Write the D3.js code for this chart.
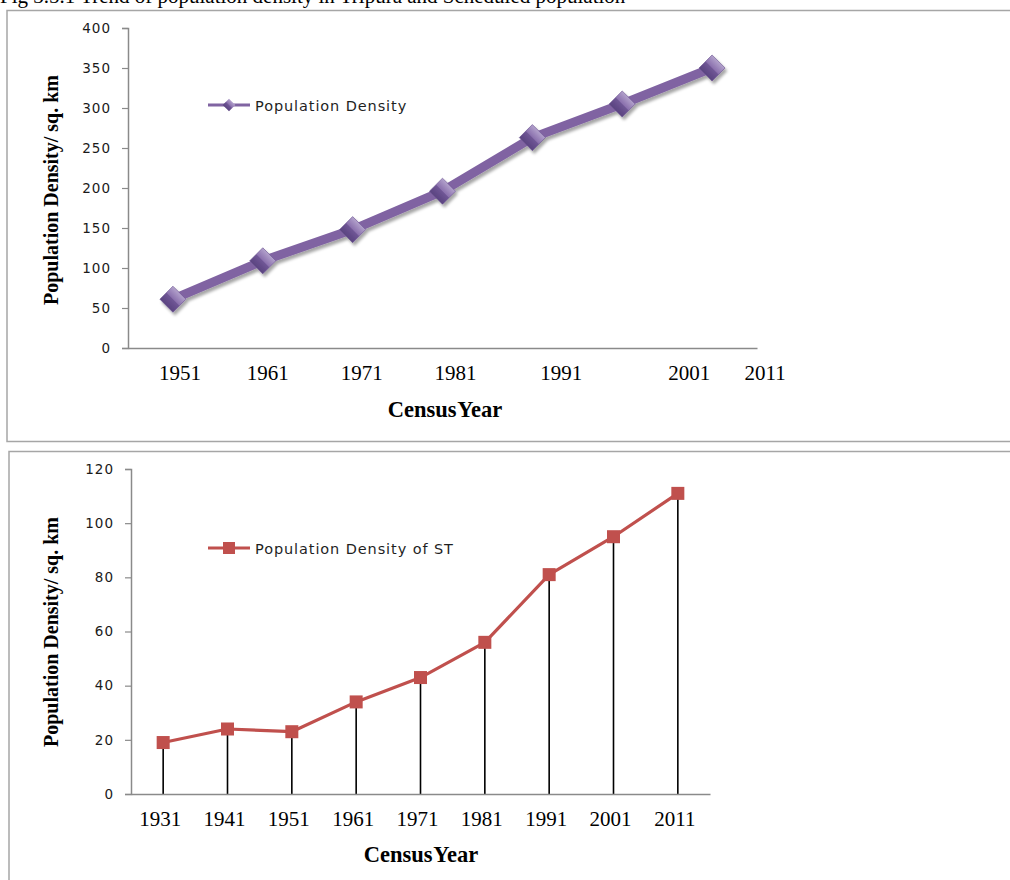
<!DOCTYPE html>
<html>
<head>
<meta charset="utf-8">
<script src="https://cdn.jsdelivr.net/npm/d3@7"></script>
<style>
  html, body { margin: 0; padding: 0; background: #fff; }
  svg { display: block; }
</style>
</head>
<body>
<svg id="chart" width="1010" height="880"></svg>
<script>
// ---------------- DATA ----------------
const captionText = "Fig 3.5.1 Trend of population density in Tripura and Scheduled population";
const yTitle = "Population Density/ sq. km";
const xTitle = "Census Year";

const topYears = ["1951", "1961", "1971", "1981", "1991", "2001", "2011"];
const topDensity = [61, 109, 148, 196, 263, 305, 350];
const topYTicks = [0, 50, 100, 150, 200, 250, 300, 350, 400];
const topSeriesName = "Population Density";

const stYears = ["1931", "1941", "1951", "1961", "1971", "1981", "1991", "2001", "2011"];
const stDensity = [19, 24, 23, 34, 43, 56, 81, 95, 111];
const stYTicks = [0, 20, 40, 60, 80, 100, 120];
const stSeriesName = "Population Density of ST";

// ---------------- LAYOUT / STYLE ----------------
const topLabelNudge = [7, 5, 9, 13, 29, 67, 53]; // hand-placed year labels in the original
const axisColor = "#8a8a8a";
const tickFont = "'DejaVu Sans', Verdana, sans-serif";
const serif = "'Liberation Serif', 'Times New Roman', serif";

const svg = d3.select("#chart");
const defs = svg.append("defs");

const f = defs.append("filter").attr("id", "shadow")
  .attr("x", "-20%").attr("y", "-20%").attr("width", "140%").attr("height", "140%");
f.append("feDropShadow").attr("dx", 2).attr("dy", 3).attr("stdDeviation", 1.8)
  .attr("flood-color", "#000").attr("flood-opacity", 0.35);

const g1 = defs.append("linearGradient").attr("id", "diamGrad")
  .attr("x1", "0").attr("y1", "0").attr("x2", "0").attr("y2", "1");
g1.append("stop").attr("offset", "0%").attr("stop-color", "#b3a2cc");
g1.append("stop").attr("offset", "48%").attr("stop-color", "#8a70ad");
g1.append("stop").attr("offset", "52%").attr("stop-color", "#6f5695");
g1.append("stop").attr("offset", "100%").attr("stop-color", "#5a4380");

// caption (cut off at top, as in the original)
svg.append("text").attr("x", 0).attr("y", 3)
  .attr("font-family", serif).attr("font-size", 21).attr("fill", "#000")
  .text(captionText);

// frames
svg.append("rect").attr("x", 7).attr("y", 10.5).attr("width", 1010).attr("height", 431)
  .attr("fill", "none").attr("stroke", "#a6a6a6").attr("stroke-width", 1.5);
svg.append("rect").attr("x", 9).attr("y", 451.5).attr("width", 1010).attr("height", 440)
  .attr("fill", "none").attr("stroke", "#a6a6a6").attr("stroke-width", 1.5);

function styleYAxis(g) {
  g.select(".domain").attr("stroke", axisColor).attr("stroke-width", 1.5);
  g.selectAll(".tick line").attr("stroke", axisColor).attr("stroke-width", 1.2);
  g.selectAll(".tick text")
    .attr("font-family", tickFont).attr("font-size", 13.5)
    .attr("letter-spacing", "1px").attr("fill", "#1a1a1a");
}

// ================= TOP CHART =================
{
  const x = d3.scaleBand().domain(topYears).range([128, 757]);
  const y = d3.scaleLinear().domain([0, 400]).range([348, 28]);

  svg.append("g").attr("transform", "translate(128,0)")
    .call(d3.axisLeft(y).tickValues(topYTicks).tickSize(6).tickPadding(11))
    .call(styleYAxis);

  const xa = svg.append("g").attr("transform", "translate(0,348)")
    .call(d3.axisBottom(x).tickSize(0).tickPadding(17));
  xa.select(".domain").attr("stroke", axisColor).attr("stroke-width", 1.5);
  xa.selectAll(".tick text")
    .attr("font-family", serif).attr("font-size", 21).attr("fill", "#000")
    .attr("dx", (d, i) => topLabelNudge[i]);

  const series = svg.append("g").attr("filter", "url(#shadow)");
  const line = d3.line().x((d, i) => x(topYears[i]) + x.bandwidth() / 2).y(d => y(d));
  series.append("path").datum(topDensity).attr("d", line)
    .attr("fill", "none").attr("stroke", "#8064a2").attr("stroke-width", 9)
    .attr("stroke-linejoin", "round");
  const diamond = d3.symbol().type(d3.symbolSquare).size(340);
  series.selectAll(".mk").data(topDensity).join("path")
    .attr("d", diamond())
    .attr("transform", (d, i) => `translate(${x(topYears[i]) + x.bandwidth() / 2},${y(d)}) rotate(45)`)
    .attr("fill", "url(#diamGrad)").attr("stroke", "#6a5390").attr("stroke-width", 0.6);

  const lg = svg.append("g").attr("transform", "translate(208,105)");
  lg.append("line").attr("x1", 0).attr("x2", 42).attr("y1", 0).attr("y2", 0)
    .attr("stroke", "#8064a2").attr("stroke-width", 3);
  lg.append("path").attr("d", d3.symbol().type(d3.symbolSquare).size(80)())
    .attr("transform", "translate(21,0) rotate(45)").attr("fill", "url(#diamGrad)");
  lg.append("text").attr("x", 47).attr("y", 5.5)
    .attr("font-family", tickFont).attr("font-size", 14.5).attr("letter-spacing", "0.9px")
    .attr("fill", "#1f1f1f").text(topSeriesName);

  svg.append("text").attr("transform", "translate(58,190) rotate(-90)")
    .attr("text-anchor", "middle").attr("font-family", serif).attr("font-weight", "bold")
    .attr("font-size", 20).text(yTitle);
  svg.append("text").attr("x", 445).attr("y", 417).attr("text-anchor", "middle")
    .attr("font-family", serif).attr("font-weight", "bold").attr("font-size", 22.5)
    .attr("word-spacing", "-4px").text(xTitle);
}

// ================= BOTTOM CHART =================
{
  const x = d3.scaleBand().domain(stYears).range([131, 710]);
  const y = d3.scaleLinear().domain([0, 120]).range([794, 469]);
  const cx = d => x(d) + x.bandwidth() / 2;

  svg.append("g").attr("transform", "translate(131,0)")
    .call(d3.axisLeft(y).tickValues(stYTicks).tickSize(6).tickPadding(11))
    .call(styleYAxis);

  svg.selectAll(".drop").data(stDensity).join("line")
    .attr("x1", (d, i) => cx(stYears[i])).attr("x2", (d, i) => cx(stYears[i]))
    .attr("y1", d => y(d)).attr("y2", y(0))
    .attr("stroke", "#000").attr("stroke-width", 1.6);

  const xa = svg.append("g").attr("transform", "translate(0,794)")
    .call(d3.axisBottom(x).tickSize(0).tickPadding(17));
  xa.select(".domain").attr("stroke", axisColor).attr("stroke-width", 1.5);
  xa.selectAll(".tick text")
    .attr("font-family", serif).attr("font-size", 21).attr("fill", "#000")
    .attr("dx", -3);

  const line = d3.line().x((d, i) => cx(stYears[i])).y(d => y(d));
  svg.append("path").datum(stDensity).attr("d", line)
    .attr("fill", "none").attr("stroke", "#c0504d").attr("stroke-width", 3.2)
    .attr("stroke-linejoin", "round");
  svg.selectAll(".sq").data(stDensity).join("rect")
    .attr("x", (d, i) => cx(stYears[i]) - 6.5).attr("y", d => y(d) - 6.5)
    .attr("width", 13).attr("height", 13).attr("fill", "#c0504d");

  const lg = svg.append("g").attr("transform", "translate(208,548)");
  lg.append("line").attr("x1", 0).attr("x2", 42).attr("y1", 0).attr("y2", 0)
    .attr("stroke", "#c0504d").attr("stroke-width", 3);
  lg.append("rect").attr("x", 15).attr("y", -6).attr("width", 12).attr("height", 12)
    .attr("fill", "#c0504d");
  lg.append("text").attr("x", 47).attr("y", 5.5)
    .attr("font-family", tickFont).attr("font-size", 14.5).attr("letter-spacing", "0.9px")
    .attr("fill", "#1f1f1f").text(stSeriesName);

  svg.append("text").attr("transform", "translate(58,632) rotate(-90)")
    .attr("text-anchor", "middle").attr("font-family", serif).attr("font-weight", "bold")
    .attr("font-size", 20).text(yTitle);
  svg.append("text").attr("x", 421).attr("y", 862).attr("text-anchor", "middle")
    .attr("font-family", serif).attr("font-weight", "bold").attr("font-size", 22.5)
    .attr("word-spacing", "-4px").text(xTitle);
}
</script>
</body>
</html>
